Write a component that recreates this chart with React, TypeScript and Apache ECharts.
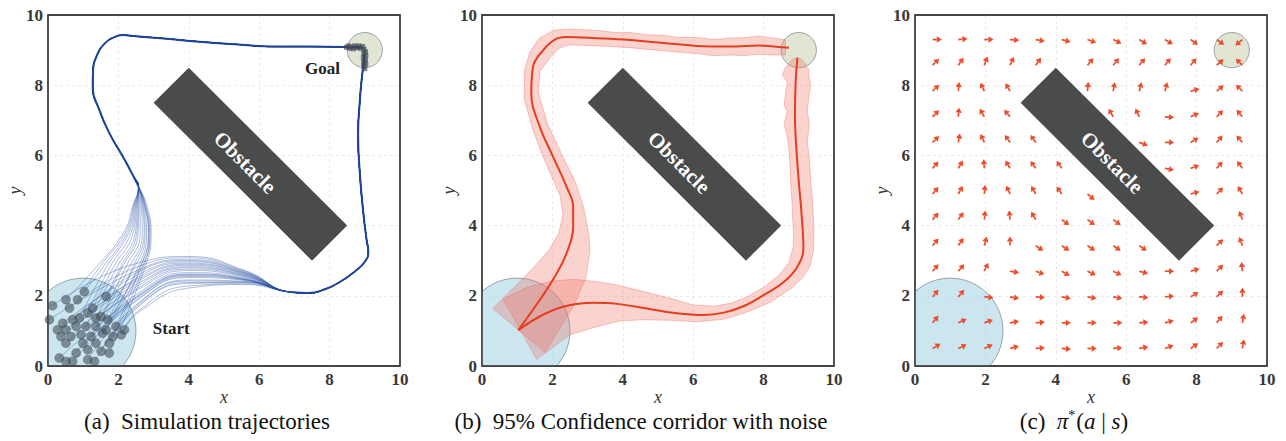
import React, { useEffect, useRef } from 'react';
import * as echarts from 'echarts';

const FONT = "'Liberation Serif', 'Times New Roman', serif";

// ---------- shared scene ----------
const obstacleCorners = [[3, 7.5], [4, 8.5], [8.5, 4], [7.5, 3]];
const obstacleLabel = 'Obstacle';
const obstacleLabelAt = [5.6, 5.8];
const regions = [[1, 1, 1.5], [9, 9, 0.5]]; // start, goal: [cx, cy, r]

// ---------- panel (a): simulation trajectories ----------
const upperAnchorY = [2.8, 3.8, 4.6];
// [startX, startY, x at y=2.8, x at y=3.8, x at y=4.6]
const upperTraj = [
  [0.51, 1.89, 1.35, 2.15, 2.42],
  [0.84, 1.89, 1.45, 2.2, 2.44],
  [1.03, 2.12, 1.55, 2.25, 2.46],
  [0.89, 1.37, 1.65, 2.3, 2.48],
  [1.13, 1.51, 1.75, 2.36, 2.5],
  [1.27, 1.65, 1.85, 2.42, 2.52],
  [1.65, 1.98, 2.05, 2.52, 2.56],
  [1.08, 1.13, 1.95, 2.48, 2.54],
  [1.36, 1.37, 2.1, 2.56, 2.58],
  [1.51, 1.41, 2.2, 2.62, 2.61],
  [1.36, 1.13, 2.3, 2.68, 2.64],
  [1.7, 1.32, 2.4, 2.73, 2.67],
  [1.22, 0.84, 2.45, 2.76, 2.69],
  [1.55, 0.94, 2.55, 2.8, 2.71],
  [1.93, 1.13, 2.62, 2.85, 2.74],
  [1.84, 0.84, 2.7, 2.9, 2.77],
  [1.36, 0.65, 2.66, 2.88, 2.76],
  [1.13, 0.46, 2.6, 2.86, 2.73],
  [1.74, 0.37, 2.75, 2.93, 2.8],
];
const upperShared = [
  [2.57, 5.12], [2.42, 5.42], [2.13, 5.96], [1.75, 6.62], [1.46, 7.29], [1.27, 7.95],
  [1.28, 8.4], [1.37, 8.8], [1.62, 9.2], [1.94, 9.39], [2.15, 9.43], [2.4, 9.4],
  [3.2, 9.34], [4.3, 9.24], [5.4, 9.16], [6.4, 9.1], [7.4, 9.1], [8.4, 9.09], [8.9, 9.07],
];
const lowerAnchorX = [2.6, 4.0, 5.6];
// [startX, startY, y at x=2.6, y at x=4.0, y at x=5.6]
const lowerTraj = [
  [0.13, 1.72, 2.95, 3.12, 2.72],
  [0.61, 1.65, 2.85, 3.08, 2.7],
  [0.04, 1.32, 2.75, 3.03, 2.68],
  [0.7, 1.32, 2.7, 3.0, 2.66],
  [0.42, 1.22, 2.62, 2.97, 2.65],
  [0.8, 1.13, 2.55, 2.93, 2.63],
  [0.27, 1.03, 2.5, 2.9, 2.62],
  [0.51, 1.03, 2.45, 2.87, 2.6],
  [0.37, 0.84, 2.38, 2.83, 2.58],
  [0.65, 0.84, 2.32, 2.8, 2.57],
  [0.94, 0.89, 2.25, 2.76, 2.55],
  [0.51, 0.65, 2.2, 2.72, 2.53],
  [0.99, 0.65, 2.1, 2.66, 2.5],
  [1.65, 1.03, 2.05, 2.62, 2.48],
  [0.8, 0.37, 2.0, 2.58, 2.46],
  [0.32, 0.23, 2.02, 2.6, 2.47],
  [0.7, 0.13, 1.92, 2.52, 2.44],
  [0.51, 0.13, 1.95, 2.55, 2.45],
  [1.13, 0.18, 1.82, 2.45, 2.41],
  [1.51, 0.42, 1.8, 2.42, 2.4],
  [1.74, 0.65, 1.75, 2.38, 2.38],
  [1.32, 0.13, 1.72, 2.35, 2.37],
  [2.08, 0.89, 1.6, 2.28, 2.34],
  [2.17, 1.03, 1.55, 2.22, 2.32],
];
const lowerShared = [
  [6.95, 2.1], [7.4, 2.08], [7.85, 2.18], [8.3, 2.4], [8.7, 2.68], [9.0, 2.97], [9.1, 3.25],
  [9.05, 3.6], [8.96, 4.35], [8.86, 5.48], [8.81, 6.62], [8.86, 7.57], [8.9, 8.05],
  [8.95, 8.52], [8.98, 8.9],
];
const goalEnds = [
  [8.48, 9.08], [8.53, 9.12], [8.58, 9.05], [8.62, 9.1], [8.68, 9.04], [8.72, 9.12], [8.78, 9.07],
  [8.84, 9.12], [8.88, 9.05], [8.94, 9.1], [8.98, 9.02], [9.02, 8.95], [8.97, 8.9], [9.03, 8.84],
  [8.96, 8.78], [9.02, 8.72], [8.97, 8.66], [9.03, 8.6], [8.97, 8.54], [9.0, 8.47],
];
const textLabelsA = [
  { text: 'Start', at: [3.5, 1.07] },
  { text: 'Goal', at: [7.8, 8.49] },
];

// ---------- panel (b): confidence corridor ----------
const meanUpper = [
  [1.03, 1.02], [1.64, 1.88], [2.07, 2.55], [2.4, 3.21], [2.59, 3.97], [2.59, 4.54], [2.4, 5.11],
  [2.02, 5.96], [1.64, 6.82], [1.4, 7.77], [1.45, 8.53], [1.74, 9.0], [2.07, 9.3], [2.4, 9.37],
  [3.26, 9.34], [4.2, 9.29], [5.16, 9.2], [6.1, 9.12], [7.06, 9.1], [7.86, 9.13], [8.29, 9.1], [8.72, 9.07],
];
const meanLower = [
  [1.03, 1.02], [1.64, 1.41], [2.3, 1.69], [3.16, 1.8], [3.83, 1.77], [4.68, 1.64], [5.54, 1.5],
  [6.3, 1.45], [6.87, 1.52], [7.44, 1.71], [8.0, 2.02], [8.58, 2.4], [8.96, 2.83], [9.13, 3.35],
  [9.08, 4.3], [9.0, 5.25], [8.93, 6.2], [8.89, 7.15], [8.91, 8.1], [8.96, 8.77],
];
const corridorUpper = [
  [0.31, 1.64], [0.75, 2.08], [1.12, 2.45], [1.5, 2.85], [1.9, 3.3], [2.18, 3.78], [2.3, 4.3],
  [2.22, 4.85], [1.98, 5.4], [1.72, 6.0], [1.44, 6.75], [1.2, 7.6], [1.2, 8.4], [1.36, 8.95],
  [1.62, 9.33], [2.05, 9.57], [2.5, 9.6], [3.3, 9.56], [3.8, 9.5], [4.2, 9.5], [4.7, 9.44],
  [5.15, 9.42], [5.6, 9.36], [6.1, 9.36], [6.6, 9.3], [7.06, 9.34], [7.5, 9.36], [7.86, 9.4],
  [8.3, 9.34], [8.62, 9.3],
  [8.62, 8.86], [8.3, 8.86], [7.86, 8.88], [7.4, 8.84], [7.06, 8.86], [6.6, 8.84], [6.1, 8.9],
  [5.6, 8.94], [5.16, 8.98], [4.7, 9.02], [4.2, 9.07], [3.26, 9.12], [2.5, 9.15], [2.2, 9.06],
  [1.95, 8.8], [1.65, 8.4], [1.6, 7.8], [1.86, 6.9], [2.28, 6.0], [2.65, 5.25], [2.88, 4.55],
  [3.02, 3.85], [3.07, 3.3], [2.95, 2.5], [2.6, 1.7], [1.79, 0.39],
];
const corridorLower = [
  [0.6, 1.91], [1.3, 2.25], [2.0, 2.42], [2.6, 2.47], [3.3, 2.4], [3.83, 2.31], [4.59, 2.12],
  [5.35, 1.93], [6.0, 1.74], [6.6, 1.7], [7.1, 1.8], [7.5, 1.96], [8.0, 2.24], [8.45, 2.6],
  [8.72, 2.95], [8.84, 3.4], [8.85, 3.8], [8.82, 4.3], [8.8, 4.8], [8.77, 5.2], [8.75, 5.72],
  [8.72, 6.2], [8.66, 6.58], [8.58, 6.87], [8.67, 7.25], [8.58, 7.43], [8.62, 7.72], [8.67, 8.1],
  [8.53, 8.29], [8.62, 8.5], [8.8, 8.72], [8.95, 8.8],
  [9.12, 8.7], [9.28, 8.45], [9.29, 8.24], [9.34, 8.0], [9.29, 7.72], [9.24, 7.25], [9.3, 6.87],
  [9.24, 6.39], [9.3, 5.92], [9.34, 5.25], [9.39, 4.68], [9.43, 3.92], [9.42, 3.3], [9.32, 2.85],
  [9.1, 2.5], [8.77, 2.2], [8.2, 1.82], [7.53, 1.54], [6.87, 1.33], [6.1, 1.26], [5.35, 1.3],
  [4.59, 1.32], [3.9, 1.28], [3.26, 1.12], [2.5, 0.89], [1.55, 0.19],
];

// ---------- panel (c): policy arrows ----------
const arrowGrid = [0.5, 1.23, 1.97, 2.7, 3.43, 4.17, 4.9, 5.63, 6.37, 7.1, 7.83, 8.57, 9.3];
const arrowLength = 0.26;
// direction in degrees, rows from top (y = 9.3) to bottom (y = 0.5); null = no arrow
const arrowAngles: (number | null)[][] = [
  [0, 5, 0, -5, -10, -15, -20, -25, -30, -30, -35, -35, -140],
  [45, 55, 70, 65, 55, null, 50, 50, 50, 50, 50, 40, 135],
  [45, 85, 115, 120, null, null, 85, 80, 75, 75, 15, 40, 135],
  [45, 85, 120, 130, null, null, null, 120, 115, -5, 25, 45, 130],
  [45, 80, 115, 125, 125, null, null, null, -20, 0, 30, 50, 130],
  [50, 60, 95, 120, 125, 125, null, null, null, -10, 20, 50, 125],
  [50, 60, 85, 115, 120, 125, -40, null, null, null, 15, 45, 120],
  [50, 55, 85, 95, 120, -35, -35, -35, null, null, null, null, 110],
  [50, 55, 75, 90, -35, -35, -35, -35, -35, null, null, 45, 110],
  [50, 50, 65, -10, -20, -30, -25, -25, -15, 0, 15, 45, 95],
  [50, 50, -5, -10, -5, -10, -10, -10, -5, 5, 30, 45, 90],
  [50, 25, 20, 10, 5, 0, 0, 0, 5, 15, 35, 50, 80],
  [30, 25, 25, 15, 5, -5, 0, 5, 10, 20, 35, 45, 80],
];

const captions = [
  { text: '(a)\u00a0 Simulation trajectories', cx: 207 },
  { text: '(b)\u00a0 95% Confidence corridor with noise', cx: 641 },
];

// ---------- helpers ----------
const gridLefts = [48, 482, 915];

function clipOf(params: any) {
  const cs = params.coordSys;
  return { type: 'rect', shape: { x: cs.x, y: cs.y, width: cs.width, height: cs.height } };
}

function regionSeries(i: number) {
  return {
    type: 'custom', xAxisIndex: i, yAxisIndex: i, z: 1, silent: true,
    data: regions,
    renderItem: (params: any, api: any) => {
      const c = api.coord([api.value(0), api.value(1)]);
      const r = api.size([api.value(2), 0])[0];
      const isStart = params.dataIndex === 0;
      return {
        type: 'circle',
        shape: { cx: c[0], cy: c[1], r },
        style: {
          fill: isStart ? 'rgba(160,210,224,0.55)' : 'rgba(196,204,168,0.5)',
          stroke: 'rgba(120,130,135,0.7)',
          lineWidth: 1,
        },
        clipPath: clipOf(params),
      };
    },
  };
}

function obstacleSeries(i: number) {
  return {
    type: 'custom', xAxisIndex: i, yAxisIndex: i, z: 3, silent: true,
    data: [obstacleLabelAt],
    renderItem: (params: any, api: any) => {
      const pts = obstacleCorners.map((p) => api.coord(p));
      const c = api.coord(obstacleLabelAt);
      return {
        type: 'group',
        children: [
          { type: 'polygon', shape: { points: pts }, style: { fill: '#4a4b4b' } },
          {
            type: 'text', x: c[0], y: c[1], rotation: -Math.PI / 4,
            style: {
              text: obstacleLabel, fill: '#ffffff', font: `bold 21px ${FONT}`,
              align: 'center', verticalAlign: 'middle',
            },
          },
        ],
      };
    },
  };
}

function frameSeries(i: number) {
  return {
    type: 'custom', xAxisIndex: i, yAxisIndex: i, z: 10, silent: true,
    data: [[0, 0]],
    renderItem: (params: any) => {
      const cs = params.coordSys;
      return {
        type: 'rect',
        shape: { x: cs.x, y: cs.y, width: cs.width, height: cs.height },
        style: { fill: 'none', stroke: '#3a3a3a', lineWidth: 1.3 },
      };
    },
  };
}

function polygonSeries(i: number, polys: number[][][], z: number) {
  return {
    type: 'custom', xAxisIndex: i, yAxisIndex: i, z, silent: true,
    data: polys.map((p) => p[0]),
    renderItem: (params: any, api: any) => {
      const pts = polys[params.dataIndex].map((p) => api.coord(p));
      return {
        type: 'polygon', shape: { points: pts },
        style: { fill: 'rgba(240,110,95,0.3)', stroke: 'rgba(232,105,90,0.45)', lineWidth: 0.8 },
        clipPath: clipOf(params),
      };
    },
  };
}

function labelSeries(i: number, labels: { text: string; at: number[] }[]) {
  return {
    type: 'custom', xAxisIndex: i, yAxisIndex: i, z: 6, silent: true,
    data: labels.map((l) => l.at),
    renderItem: (params: any, api: any) => {
      const c = api.coord([api.value(0), api.value(1)]);
      return {
        type: 'text', x: c[0], y: c[1],
        style: {
          text: labels[params.dataIndex].text, fill: '#222', font: `bold 17px ${FONT}`,
          align: 'center', verticalAlign: 'middle',
        },
      };
    },
  };
}

function buildOption() {
  const tickStyle = { fontFamily: FONT, fontWeight: 'bold' as const, fontSize: 17, color: '#383838' };
  const nameStyle = { fontFamily: FONT, fontStyle: 'italic' as const, fontSize: 18, color: '#383838' };
  const split = {
    show: true, showMinLine: false, showMaxLine: false,
    lineStyle: { color: '#e6e6e6', type: [3, 3], width: 0.8 },
  };

  const grid = gridLefts.map((l) => ({
    left: l, top: 15, width: 352, height: 351, show: true,
    borderColor: '#3a3a3a', borderWidth: 1.3, backgroundColor: '#fff',
  }));
  const xAxis = gridLefts.map((_, i) => ({
    gridIndex: i, type: 'value', min: 0, max: 10, interval: 2,
    name: 'x', nameLocation: 'middle', nameGap: 22, nameMoveOverlap: false, nameTextStyle: nameStyle,
    axisLine: { show: false }, axisTick: { show: false },
    axisLabel: { margin: 5, ...tickStyle }, splitLine: split,
  }));
  const yAxis = gridLefts.map((_, i) => ({
    gridIndex: i, type: 'value', min: 0, max: 10, interval: 2,
    name: 'y', nameLocation: 'middle', nameGap: 24, nameMoveOverlap: false, nameTextStyle: nameStyle,
    axisLine: { show: false }, axisTick: { show: false },
    axisLabel: { margin: 5, ...tickStyle }, splitLine: split,
  }));

  const series: any[] = [];
  [0, 1, 2].forEach((i) => {
    series.push(regionSeries(i));
    series.push(obstacleSeries(i));
    series.push(frameSeries(i));
  });

  // panel (a)
  const trajStyle = { color: '#2a52a6', width: 0.9, opacity: 0.42 };
  upperTraj.forEach((t) => {
    series.push({
      type: 'line', xAxisIndex: 0, yAxisIndex: 0, z: 4, silent: true, smooth: 0.5,
      showSymbol: false, symbol: 'none', lineStyle: trajStyle,
      data: [[t[0], t[1]], [t[2], upperAnchorY[0]], [t[3], upperAnchorY[1]], [t[4], upperAnchorY[2]], ...upperShared],
    });
  });
  lowerTraj.forEach((t) => {
    series.push({
      type: 'line', xAxisIndex: 0, yAxisIndex: 0, z: 4, silent: true, smooth: 0.5,
      showSymbol: false, symbol: 'none', lineStyle: trajStyle,
      data: [[t[0], t[1]], [lowerAnchorX[0], t[2]], [lowerAnchorX[1], t[3]], [lowerAnchorX[2], t[4]], ...lowerShared],
    });
  });
  [upperShared, lowerShared].forEach((s) => {
    series.push({
      type: 'line', xAxisIndex: 0, yAxisIndex: 0, z: 4, silent: true, smooth: 0.5,
      showSymbol: false, symbol: 'none', lineStyle: { color: '#1f4596', width: 2 },
      data: s,
    });
  });
  series.push({
    type: 'scatter', xAxisIndex: 0, yAxisIndex: 0, z: 5, silent: true, symbolSize: 9,
    itemStyle: { color: 'rgba(66,76,88,0.72)', borderColor: 'rgba(45,55,65,0.6)', borderWidth: 0.6 },
    data: [...upperTraj, ...lowerTraj].map((t) => [t[0], t[1]]),
  });
  series.push({
    type: 'scatter', xAxisIndex: 0, yAxisIndex: 0, z: 5, silent: true, symbolSize: 5, symbol: 'rect',
    itemStyle: { color: 'rgba(62,72,84,0.85)' },
    data: goalEnds,
  });
  series.push(labelSeries(0, textLabelsA));

  // panel (b)
  series.push(polygonSeries(1, [corridorUpper, corridorLower], 2));
  [meanUpper, meanLower].forEach((m) => {
    series.push({
      type: 'line', xAxisIndex: 1, yAxisIndex: 1, z: 4, silent: true, smooth: 0.4,
      showSymbol: false, symbol: 'none', lineStyle: { color: '#e63d1f', width: 2 },
      data: m,
    });
  });

  // panel (c)
  const arrowData: number[][] = [];
  arrowAngles.forEach((row, r) => row.forEach((a, c) => {
    if (a !== null) arrowData.push([arrowGrid[c], arrowGrid[arrowGrid.length - 1 - r], a]);
  }));
  series.push({
    type: 'custom', xAxisIndex: 2, yAxisIndex: 2, z: 4, silent: true,
    data: arrowData,
    renderItem: (params: any, api: any) => {
      const p = api.coord([api.value(0), api.value(1)]);
      const ang = (api.value(2) * Math.PI) / 180;
      const L = api.size([arrowLength, 0])[0];
      const dx = Math.cos(ang), dy = -Math.sin(ang);
      const headL = 5, headW = 3.2;
      const tip = [p[0] + dx * L, p[1] + dy * L];
      const base = [tip[0] - dx * headL, tip[1] - dy * headL];
      const nx = -dy, ny = dx;
      const color = '#f04a28';
      return {
        type: 'group',
        children: [
          { type: 'line', shape: { x1: p[0], y1: p[1], x2: base[0], y2: base[1] }, style: { stroke: color, lineWidth: 1.7 } },
          {
            type: 'polygon',
            shape: { points: [tip, [base[0] + nx * headW, base[1] + ny * headW], [base[0] - nx * headW, base[1] - ny * headW]] },
            style: { fill: color },
          },
        ],
      };
    },
  });

  const graphic: any[] = captions.map((c) => ({
    type: 'text', x: c.cx, y: 421,
    style: { text: c.text, font: `23px ${FONT}`, fill: '#111', align: 'center', verticalAlign: 'middle' },
  }));
  graphic.push({
    type: 'text', x: 1074, y: 421,
    style: {
      text: '(c)\u00a0 {i|π}{s|*}({i|a}\u00a0|\u00a0{i|s})',
      font: `23px ${FONT}`, fill: '#111', align: 'center', verticalAlign: 'middle',
      rich: {
        i: { fontFamily: FONT, fontStyle: 'italic', fontSize: 23, fill: '#111' },
        s: { fontFamily: FONT, fontSize: 14, fill: '#111', padding: [0, 1, 11, 0] },
      },
    },
  });

  return { animation: false, backgroundColor: '#fff', grid, xAxis, yAxis, series, graphic };
}

export default function App() {
  const ref = useRef<HTMLDivElement>(null);
  useEffect(() => {
    if (!ref.current) return;
    const chart = echarts.init(ref.current, undefined, { renderer: 'svg' });
    chart.setOption(buildOption() as any);
    return () => chart.dispose();
  }, []);
  return (
    <div
      ref={ref}
      style={{ position: 'fixed', left: 0, top: 0, width: 1286, height: 441, background: '#fff' }}
    />
  );
}
